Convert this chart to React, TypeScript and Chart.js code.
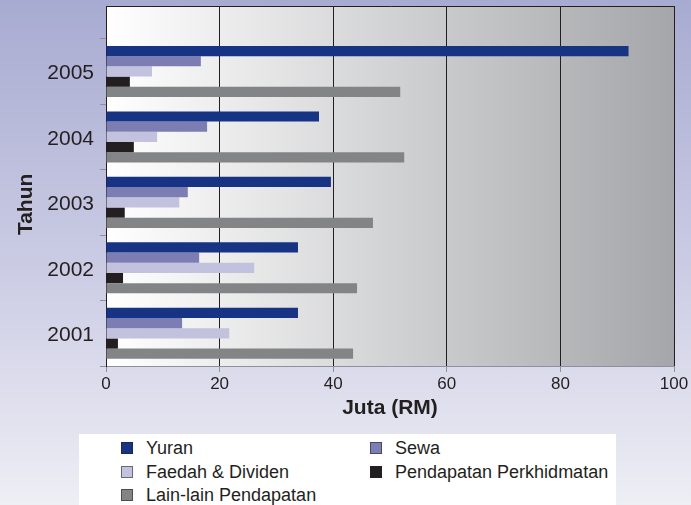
import React, { useEffect, useRef } from "react";
import { Chart, registerables } from "chart.js";

Chart.register(...registerables);

const years = ["2005", "2004", "2003", "2002", "2001"];
const seriesNames = ["Yuran", "Sewa", "Faedah & Dividen", "Pendapatan Perkhidmatan", "Lain-lain Pendapatan"];
const yuran = [92, 37.5, 39.6, 33.8, 33.8];
const sewa = [16.7, 17.8, 14.4, 16.4, 13.4];
const faedah = [8.1, 9.0, 12.9, 26.1, 21.7];
const perkhidmatan = [4.2, 4.9, 3.3, 3.0, 2.1];
const lainLain = [51.8, 52.5, 47.0, 44.2, 43.5];
const seriesValues = [yuran, sewa, faedah, perkhidmatan, lainLain];
const seriesColors = ["#173384", "#7b7db3", "#c2c1de", "#231f20", "#838486"];
const xMin = 0;
const xMax = 100;
const xStep = 20;
const xTitle = "Juta (RM)";
const yTitle = "Tahun";

const FONT = "'Liberation Sans', Arial, Helvetica, sans-serif";
const TEXT = "#231f20";

export default function App() {
  const ref = useRef<HTMLCanvasElement>(null);

  useEffect(() => {
    const canvas = ref.current;
    if (!canvas) return;

    const plotDecor = {
      id: "plotDecor",
      beforeDraw(chart: any) {
        const { ctx, chartArea: a } = chart;
        const g = ctx.createLinearGradient(a.left, 0, a.right, 0);
        g.addColorStop(0, "#ffffff");
        g.addColorStop(1, "#a5a6a9");
        ctx.save();
        ctx.fillStyle = g;
        ctx.fillRect(a.left, a.top, a.right - a.left, a.bottom - a.top);
        ctx.restore();
      },
      afterDraw(chart: any) {
        const { ctx, chartArea: a } = chart;
        ctx.save();
        ctx.strokeStyle = TEXT;
        ctx.lineWidth = 1;
        ctx.beginPath();
        ctx.moveTo(a.left, Math.round(a.top) + 0.5);
        ctx.lineTo(a.right + 0.5, Math.round(a.top) + 0.5);
        ctx.stroke();
        // y axis title, centred on the category band
        const ys = chart.scales.y;
        const yTop = ys.getPixelForValue(-0.5);
        const yMid = (yTop + a.bottom) / 2;
        ctx.translate(26, yMid + 2);
        ctx.rotate(-Math.PI / 2);
        ctx.font = `bold 21px ${FONT}`;
        ctx.fillStyle = TEXT;
        ctx.textAlign = "center";
        ctx.textBaseline = "middle";
        ctx.fillText(yTitle, 0, 0);
        ctx.restore();
      },
    };

    const chart = new Chart(canvas, {
      type: "bar",
      data: {
        labels: years,
        datasets: seriesNames.map((name, i) => ({
          label: name,
          data: seriesValues[i],
          backgroundColor: seriesColors[i],
          borderWidth: 0,
          categoryPercentage: 0.78,
          barPercentage: 1.0,
        })),
      },
      options: {
        indexAxis: "y",
        responsive: false,
        animation: false,
        devicePixelRatio: 1,
        layout: { padding: { left: 0, right: 17, top: 6, bottom: 0 } },
        plugins: {
          legend: { display: false },
          tooltip: { enabled: false },
        },
        scales: {
          x: {
            type: "linear",
            min: xMin,
            max: xMax,
            ticks: {
              stepSize: xStep,
              color: TEXT,
              padding: 2,
              font: { family: FONT, size: 17 },
            },
            grid: {
              color: TEXT,
              lineWidth: 1,
              tickColor: "#8e90a0",
              tickLength: 6,
            },
            border: { display: true, color: "#8e90a0", width: 1 },
            title: {
              display: true,
              text: xTitle,
              color: TEXT,
              font: { family: FONT, size: 21, weight: "bold" },
              padding: { top: 0, bottom: 13 },
            },
            afterFit(scale: any) {
              scale.height = 68;
            },
          },
          y: {
            type: "category",
            offset: true,
            ticks: {
              color: TEXT,
              padding: 6,
              labelOffset: 2,
              font: { family: FONT, size: 21 },
            },
            grid: {
              offset: true,
              drawOnChartArea: false,
              drawTicks: true,
              tickColor: "#8e90a0",
              tickLength: 6,
            },
            border: { display: true, color: TEXT, width: 1 },
            afterBuildTicks(scale: any) {
              const n = scale.getLabels().length;
              scale._startValue = -1;
              scale._valueRange = n + 0.5;
            },
            afterFit(scale: any) {
              scale.width = 106;
              scale.paddingTop = 0;
              scale.paddingBottom = 0;
            },
          },
        },
      },
      plugins: [plotDecor],
    } as any);

    return () => chart.destroy();
  }, []);

  const legendCols = [
    { sq: 42, tx: 67 },
    { sq: 291, tx: 316 },
  ];
  const rowCenters = [14, 38, 61];

  return (
    <div
      style={{
        position: "fixed",
        left: 0,
        top: 0,
        width: 691,
        height: 505,
        overflow: "hidden",
        background: "linear-gradient(180deg, #a8abd1 0%, #c9cae3 50%, #eeeef5 100%)",
      }}
    >
      <canvas
        ref={ref}
        width={691}
        height={434}
        style={{ position: "absolute", left: 0, top: 0, width: 691, height: 434 }}
      />
      <div
        style={{
          position: "absolute",
          left: 79,
          top: 434,
          width: 537,
          height: 71,
          background: "#ffffff",
          fontFamily: FONT,
          fontSize: 18,
          color: TEXT,
        }}
      >
        {seriesNames.map((name, i) => {
          const col = legendCols[i % 2];
          const cy = rowCenters[Math.floor(i / 2)];
          return (
            <React.Fragment key={name}>
              <div
                style={{
                  position: "absolute",
                  left: col.sq,
                  top: cy - 6,
                  width: 10,
                  height: 10,
                  background: seriesColors[i],
                  border: "1px solid rgba(35,31,32,0.55)",
                }}
              />
              <div
                style={{
                  position: "absolute",
                  left: col.tx,
                  top: cy - 11,
                  height: 22,
                  lineHeight: "22px",
                  whiteSpace: "nowrap",
                }}
              >
                {name}
              </div>
            </React.Fragment>
          );
        })}
      </div>
    </div>
  );
}
